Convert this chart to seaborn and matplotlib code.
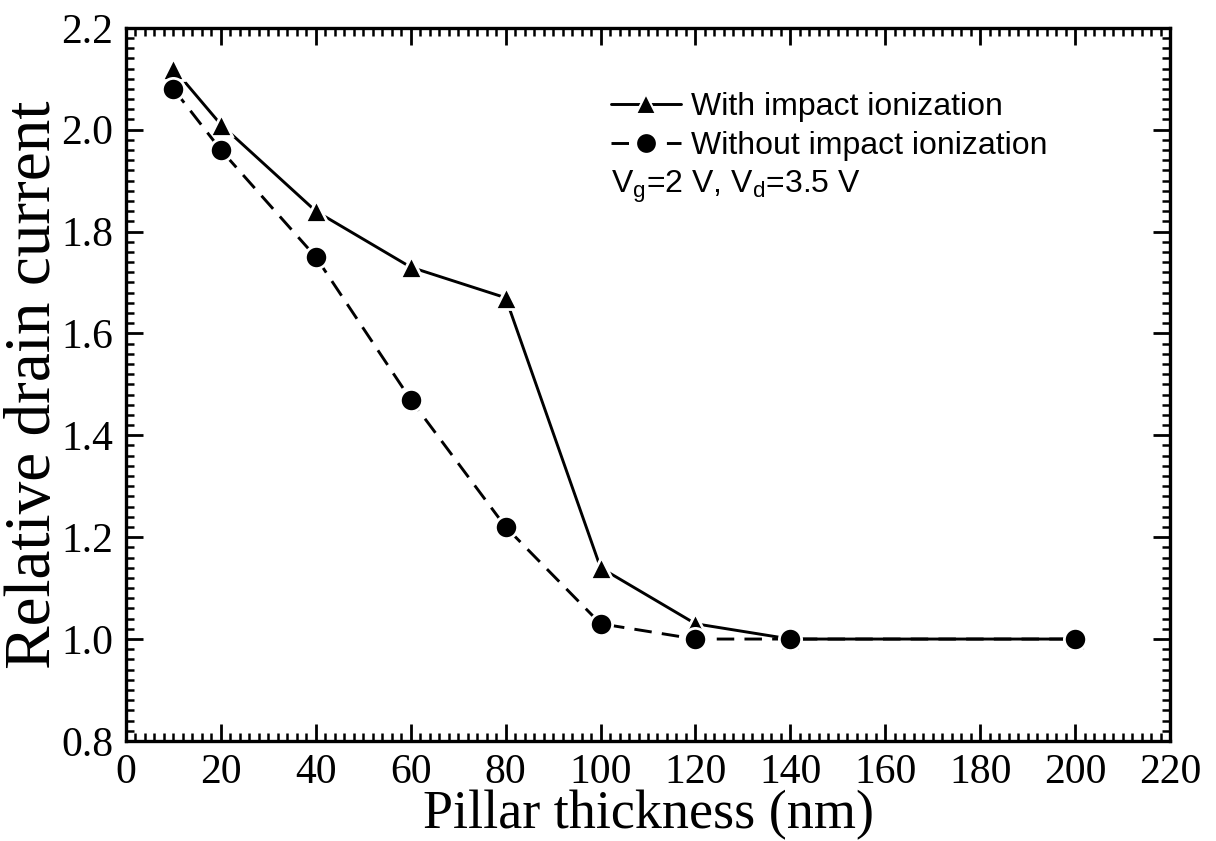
import matplotlib
matplotlib.use("Agg")
import matplotlib.pyplot as plt
from matplotlib.ticker import MultipleLocator
import seaborn as sns
import pandas as pd

thickness = [10, 20, 40, 60, 80, 100, 120, 140, 200]
with_ii = [2.12, 2.01, 1.84, 1.73, 1.67, 1.14, 1.03, 1.00, 1.00]
without_ii = [2.08, 1.96, 1.75, 1.47, 1.22, 1.03, 1.00, 1.00, 1.00]
series_names = ["With impact ionization", "Without impact ionization"]
x_ticks = list(range(0, 221, 20))
y_ticks = [0.8, 1.0, 1.2, 1.4, 1.6, 1.8, 2.0, 2.2]

sns.set_theme(style="ticks")
plt.rcParams["font.family"] = ["Liberation Serif", "DejaVu Serif"]
plt.rcParams["text.color"] = "black"
plt.rcParams["axes.labelcolor"] = "black"
plt.rcParams["mathtext.fontset"] = "custom"
plt.rcParams["mathtext.rm"] = "Liberation Sans"

df = pd.DataFrame({
    "thickness": thickness * 2,
    "current": with_ii + without_ii,
    "series": [series_names[0]] * len(thickness) + [series_names[1]] * len(thickness),
})

fig = plt.figure(figsize=(12.16, 8.41), dpi=100)
ax = fig.add_axes([0.1036, 0.119, 0.8586, 0.848])

sns.lineplot(
    data=df, x="thickness", y="current", hue="series", style="series",
    palette=["black", "black"], dashes=[(None, None), (6, 3.5)],
    markers=["^", "o"], markersize=16, markeredgecolor="white",
    markeredgewidth=2.0, linewidth=2.1, ax=ax, legend=True,
)

ax.set_xlim(0, 220)
ax.set_ylim(0.8, 2.2)
ax.set_xticks(x_ticks)
ax.set_yticks(y_ticks)
ax.set_yticklabels([f"{v:.1f}" for v in y_ticks])
ax.xaxis.set_minor_locator(MultipleLocator(2))
ax.yaxis.set_minor_locator(MultipleLocator(0.02))
ax.tick_params(which="both", direction="in", top=True, right=True, width=2,
               colors="black", labelcolor="black")
ax.tick_params(which="major", length=12, labelsize=30, pad=9)
ax.tick_params(which="minor", length=6, width=1.8)
for s in ax.spines.values():
    s.set_linewidth(2.4)
    s.set_color("black")

ax.set_xlabel("Pillar thickness (nm)", fontsize=39)
ax.xaxis.set_label_coords(0.5, -0.068)
ax.set_ylabel("Relative drain current", fontsize=47)
ax.yaxis.set_label_coords(-0.059, 0.5)

leg = ax.legend(
    loc="upper left", bbox_to_anchor=(0.452, 0.928), frameon=False,
    prop={"family": "Liberation Sans", "size": 23}, handlelength=2.2,
    handletextpad=0.3, labelspacing=0.3, borderaxespad=0,
)
for t in leg.get_texts():
    t.set_color("black")
for h in leg.legend_handles:
    h.set_markeredgecolor("white")
    h.set_markeredgewidth(1.5)
    h.set_markersize(15)

ax.text(0.465, 0.777, r"V$_\mathregular{g}$=2 V, V$_\mathregular{d}$=3.5 V",
        transform=ax.transAxes, fontsize=23, family="Liberation Sans",
        va="center", ha="left", color="black")

fig.savefig("out.png", dpi=100, facecolor="white")
